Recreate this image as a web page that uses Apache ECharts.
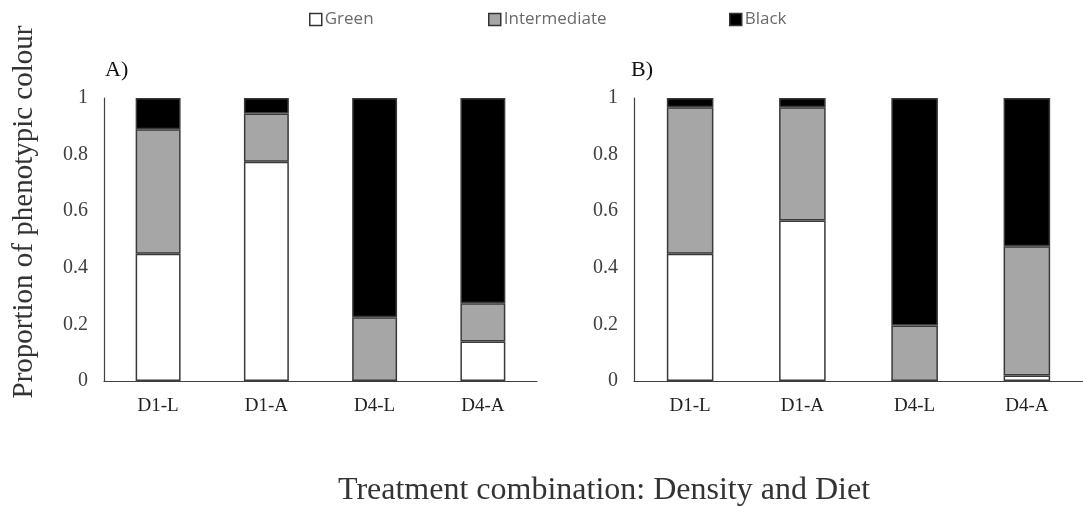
<!DOCTYPE html>
<html>
<head>
<meta charset="utf-8">
<script src="https://cdn.jsdelivr.net/npm/echarts@6/dist/echarts.min.js"></script>
<style>html,body{margin:0;padding:0;background:#fff}#c{width:1083px;height:507px}</style>
</head>
<body>
<div id="c"></div>
<script>
var categories = ['D1-L', 'D1-A', 'D4-L', 'D4-A'];
var seriesNames = ['Green', 'Intermediate', 'Black'];
var greenA = [0.45, 0.775, 0, 0.14];
var interA = [0.44, 0.17, 0.225, 0.135];
var blackA = [0.11, 0.055, 0.775, 0.725];
var greenB = [0.45, 0.567, 0, 0.019];
var interB = [0.517, 0.40, 0.196, 0.457];
var blackB = [0.033, 0.033, 0.804, 0.524];
var yTicks = { min: 0, max: 1, interval: 0.2 };
var panelLabels = ['A)', 'B)'];
var yTitle = 'Proportion of phenotypic colour';
var xTitle = 'Treatment combination: Density and Diet';

var colors = ['#ffffff', '#a6a6a6', '#000000'];
var serif = '"Liberation Serif", "DejaVu Serif", serif';
var legendLefts = [304, 483, 724];

function xAxis(gi) {
  return {
    type: 'category', gridIndex: gi, data: categories,
    axisLine: { lineStyle: { color: '#404040', width: 1.2 } },
    axisTick: { show: false },
    axisLabel: { fontFamily: serif, fontSize: 19, color: '#222', margin: 16 }
  };
}
function yAxis(gi) {
  return {
    type: 'value', gridIndex: gi, min: yTicks.min, max: yTicks.max, interval: yTicks.interval,
    axisLine: { show: true, lineStyle: { color: '#404040', width: 1.2 } },
    axisTick: { show: false },
    splitLine: { show: false },
    axisLabel: { fontFamily: serif, fontSize: 20, color: '#404040', margin: 16 }
  };
}
function bars(gi, data) {
  return data.map(function (d, i) {
    return {
      name: seriesNames[i], type: 'bar', stack: 's' + gi,
      xAxisIndex: gi, yAxisIndex: gi, data: d, barWidth: '41.5%',
      itemStyle: { color: colors[i], borderColor: '#3a3a3a', borderWidth: 1.5 },
      emphasis: { disabled: true }
    };
  });
}
var legends = seriesNames.map(function (n, i) {
  return {
    data: [n], top: 6, left: legendLefts[i], selectedMode: false,
    itemWidth: 12, itemHeight: 12, icon: 'rect',
    textStyle: { fontFamily: '"Open Sans", sans-serif', fontSize: 17, color: '#6a6a6a', padding: [0, 0, 0, -2] },
    itemStyle: { borderColor: '#333', borderWidth: 1.5 }
  };
});

var chart = echarts.init(document.getElementById('c'), null, { renderer: 'canvas' });
chart.setOption({
  animation: false,
  backgroundColor: '#fff',
  legend: legends,
  grid: [
    { left: 104, top: 98, width: 433, height: 283 },
    { left: 634, top: 98, width: 453, height: 283 }
  ],
  xAxis: [xAxis(0), xAxis(1)],
  yAxis: [yAxis(0), yAxis(1)],
  series: bars(0, [greenA, interA, blackA]).concat(bars(1, [greenB, interB, blackB])),
  graphic: [
    { type: 'text', left: 105, top: 59, style: { text: panelLabels[0], font: '22px ' + serif, fill: '#111' } },
    { type: 'text', left: 631, top: 59, style: { text: panelLabels[1], font: '22px ' + serif, fill: '#111' } },
    { type: 'text', x: 24, y: 212, rotation: Math.PI / 2,
      style: { text: yTitle, font: '29px ' + serif, fill: '#333', align: 'center', verticalAlign: 'middle' } },
    { type: 'text', x: 604, y: 491,
      style: { text: xTitle, font: '32px ' + serif, fill: '#333', align: 'center', verticalAlign: 'middle' } }
  ]
});
</script>
</body>
</html>
